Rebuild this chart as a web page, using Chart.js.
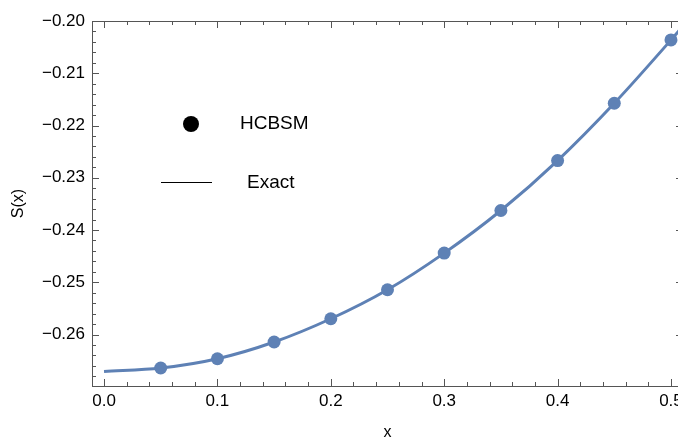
<!DOCTYPE html>
<html>
<head>
<meta charset="UTF-8">
<title>S(x)</title>
<style>
    html, body { margin: 0; padding: 0; overflow: hidden; background: #fff; }
    canvas { display: block; }
</style>
<script src="https://cdn.jsdelivr.net/npm/chart.js"></script>
</head>
<body>
<canvas id="chart" width="690" height="441"></canvas>
<script>
    // HCBSM points
    var xPoints = [0.05, 0.10, 0.15, 0.20, 0.25, 0.30, 0.35, 0.40, 0.45, 0.50];
    var hcbsm   = [-0.26641, -0.26463, -0.26143, -0.25698, -0.25143, -0.24442, -0.23627, -0.22671, -0.21574, -0.20363];

    // Exact curve
    var xExact = [0.00, 0.05, 0.10, 0.15, 0.20, 0.25, 0.30, 0.35, 0.40, 0.45, 0.50, 0.51];
    var exact  = [-0.26706, -0.26641, -0.26463, -0.26143, -0.25698, -0.25143, -0.24442, -0.23627, -0.22671, -0.21574, -0.20363, -0.20110];

    var xTicks = [0.0, 0.1, 0.2, 0.3, 0.4, 0.5];
    var yTicks = [-0.26, -0.25, -0.24, -0.23, -0.22, -0.21, -0.20];

    var blue = '#5e81b5';
    var font = "'Liberation Sans', Arial, sans-serif";

    function pairs(xs, ys) {
        return xs.map(function (x, i) { return { x: x, y: ys[i] }; });
    }

    // frame with inward ticks on all four sides
    var framePlugin = {
        id: 'frame',
        beforeDatasetsDraw: function (chart) {
            var ctx = chart.ctx, a = chart.chartArea;
            var xs = chart.scales.x, ys = chart.scales.y;
            ctx.save();
            ctx.strokeStyle = '#555';
            ctx.lineWidth = 1;
            ctx.strokeRect(a.left + 0.5, a.top + 0.5, a.right - a.left, a.bottom - a.top);
            ctx.beginPath();
            for (var i = 0; i <= 25; i++) {
                var v = i * 0.02;
                var len = (i % 5 === 0) ? 7 : 4;
                var px = Math.round(xs.getPixelForValue(v)) + 0.5;
                ctx.moveTo(px, a.bottom); ctx.lineTo(px, a.bottom - len);
                ctx.moveTo(px, a.top); ctx.lineTo(px, a.top + len);
            }
            for (var j = 0; j <= 34; j++) {
                var w = -0.268 + j * 0.002;
                var l2 = (j % 5 === 4) ? 7 : 4;
                var py = Math.round(ys.getPixelForValue(w)) + 0.5;
                ctx.moveTo(a.left, py); ctx.lineTo(a.left + l2, py);
                ctx.moveTo(a.right, py); ctx.lineTo(a.right - l2, py);
            }
            ctx.stroke();
            ctx.restore();
        },
        afterDraw: function (chart) {
            var ctx = chart.ctx;
            ctx.save();
            ctx.fillStyle = '#000';
            ctx.beginPath();
            ctx.arc(191, 124, 8, 0, Math.PI * 2);
            ctx.fill();
            ctx.strokeStyle = '#000';
            ctx.lineWidth = 1;
            ctx.beginPath();
            ctx.moveTo(161, 182.5);
            ctx.lineTo(212, 182.5);
            ctx.stroke();
            ctx.font = '19px ' + font;
            ctx.textBaseline = 'middle';
            ctx.fillText('HCBSM', 240, 124);
            ctx.fillText('Exact', 247, 183);
            ctx.restore();
        }
    };

    new Chart(document.getElementById('chart'), {
        type: 'scatter',
        data: {
            datasets: [{
                label: 'HCBSM',
                data: pairs(xPoints, hcbsm),
                showLine: false,
                pointRadius: 6.5,
                pointBackgroundColor: blue,
                pointBorderWidth: 0,
                order: 0
            }, {
                label: 'Exact',
                data: pairs(xExact, exact),
                showLine: true,
                borderColor: blue,
                borderWidth: 3,
                pointRadius: 0,
                cubicInterpolationMode: 'monotone',
                order: 1
            }]
        },
        options: {
            responsive: false,
            animation: false,
            layout: { padding: { top: 21, right: 7, left: 0, bottom: 0 } },
            plugins: {
                legend: { display: false },
                tooltip: { enabled: false }
            },
            scales: {
                x: {
                    type: 'linear',
                    min: -0.0106,
                    max: 0.5106,
                    grid: { display: false, drawTicks: false },
                    border: { display: false },
                    afterBuildTicks: function (s) {
                        s.ticks = xTicks.map(function (v) { return { value: v }; });
                    },
                    afterFit: function (s) { s.height = 55; },
                    ticks: {
                        padding: 5,
                        color: '#000',
                        font: { family: font, size: 17 },
                        maxRotation: 0,
                        callback: function (v) { return Number(v).toFixed(1); }
                    },
                    title: {
                        display: true,
                        text: 'x',
                        color: '#000',
                        padding: { top: 0, bottom: 0 },
                        font: { family: font, size: 16, lineHeight: 1 }
                    }
                },
                y: {
                    type: 'linear',
                    min: -0.26985,
                    max: -0.20,
                    grid: { display: false, drawTicks: false },
                    border: { display: false },
                    afterBuildTicks: function (s) {
                        s.ticks = yTicks.map(function (v) { return { value: v }; });
                    },
                    afterFit: function (s) { s.width = 92; },
                    ticks: {
                        padding: 7,
                        color: '#000',
                        font: { family: font, size: 17 },
                        callback: function (v) { return '\u2212' + Math.abs(v).toFixed(2); }
                    },
                    title: {
                        display: true,
                        text: 'S(x)',
                        color: '#000',
                        padding: { top: 9, bottom: 0 },
                        font: { family: font, size: 16 }
                    }
                }
            }
        },
        plugins: [framePlugin]
    });
</script>
</body>
</html>
